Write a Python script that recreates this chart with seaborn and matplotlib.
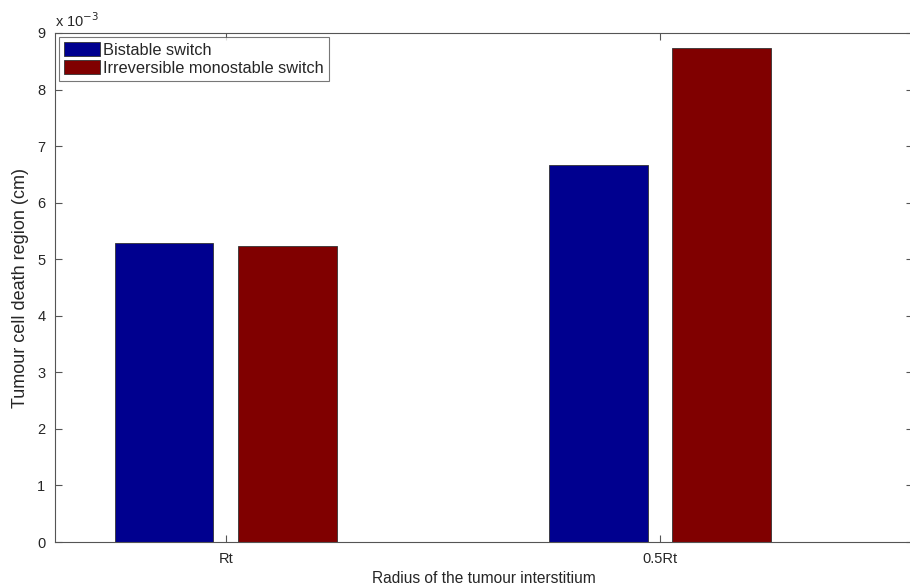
import matplotlib
matplotlib.use("Agg")
import matplotlib.pyplot as plt
import seaborn as sns
import pandas as pd

# values, in units of 1e-3 cm
categories = ["Rt", "0.5Rt"]
series = ["Bistable switch", "Irreversible monostable switch"]
bistable = [5.28, 6.66]
irreversible = [5.24, 8.74]
yticks = [0, 1, 2, 3, 4, 5, 6, 7, 8, 9]

colors = ["#00008f", "#800000"]

df = pd.DataFrame({
    "radius": categories * 2,
    "switch": [series[0]] * 2 + [series[1]] * 2,
    "value": bistable + irreversible,
})

sns.set_style("white")
plt.rcParams["font.family"] = ["Liberation Sans", "DejaVu Sans"]

fig = plt.figure(figsize=(9.1, 5.85), dpi=100)
# right border of the box sits just past the edge of the picture
ax = fig.add_axes([55 / 910, 43 / 585, 858 / 910, 509 / 585])

sns.barplot(data=df, x="radius", y="value", hue="switch", order=categories,
            hue_order=series, palette=colors, width=0.567, gap=0.2,
            edgecolor="#333333", linewidth=0.6, saturation=1, ax=ax)

ax.set_xlim(-0.393, 1.582)
ax.set_ylim(0, 9)
ax.set_yticks(yticks)
ax.set_yticklabels([str(t) for t in yticks])

for s in ax.spines.values():
    s.set_color("#555555")
    s.set_linewidth(0.8)
ax.tick_params(direction="in", length=5, color="#555555", labelsize=10.5,
               top=True, right=True, left=True, bottom=True, pad=7)

ax.set_xlabel("Radius of the tumour interstitium", fontsize=11.2, labelpad=4)
ax.set_ylabel("Tumour cell death region (cm)", fontsize=13, labelpad=6)
ax.text(0.0, 1.005, r"x 10$^{-3}$", transform=ax.transAxes, fontsize=10.5,
        ha="left", va="bottom")

leg = ax.legend(loc="upper left", fontsize=11.8, frameon=True, fancybox=False,
                borderaxespad=0.25, handlelength=2.2, handleheight=0.95,
                borderpad=0.3, labelspacing=0.15, handletextpad=0.2)
leg.get_frame().set_edgecolor("#555555")
leg.get_frame().set_linewidth(0.8)

fig.savefig("out.png", dpi=100)
